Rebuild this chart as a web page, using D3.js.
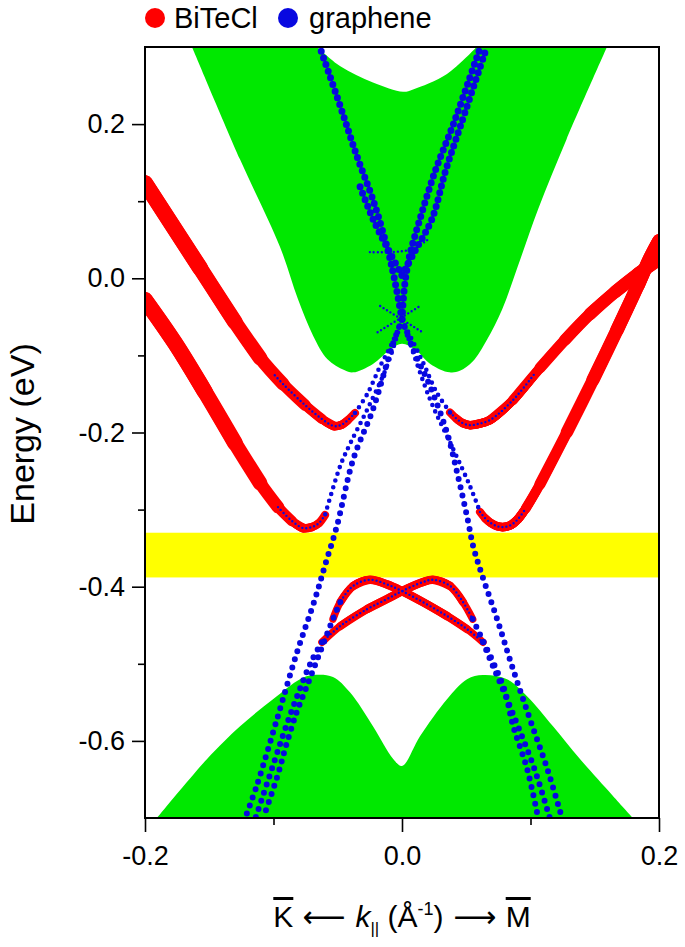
<!DOCTYPE html>
<html><head><meta charset="utf-8">
<script src="https://cdn.jsdelivr.net/npm/d3@7"></script>
<style>body{margin:0;background:#fff} svg{display:block} text{font-family:"Liberation Sans",Arial,sans-serif;fill:#000}</style>
</head><body><svg id="c" width="685" height="947"></svg>
<script>
// ---------------- data ----------------
const kRange = [-0.2, 0.2];
const eRange = [-0.7, 0.3];
const yMajorTicks = [-0.6, -0.4, -0.2, 0.0, 0.2];
const yMinorTicks = [-0.5, -0.3, -0.1, 0.1];
const xMajorTicks = [-0.2, 0.0, 0.2];
const xMinorTicks = [-0.1, 0.1];
const legendLabels = ["BiTeCl", "graphene"];
const xLabelParts = ["K", "\u27F5", "k", "||", "(\u00C5", "-1", ")", "\u27F6", "M"];
const yLabel = "Energy (eV)";

// bulk conduction continuum: outer boundary and inner (top) gap
const cbOuter = [[-0.1634,0.30],[-0.126,0.154],[-0.095,0.041],[-0.081,-0.027],[-0.069,-0.075],[-0.058,-0.105],[-0.045,-0.119],[-0.038,-0.122],[-0.0226,-0.111],[-0.009,-0.092],[0,-0.085],[0.01,-0.092],[0.022,-0.111],[0.037,-0.122],[0.045,-0.12],[0.055,-0.108],[0.066,-0.08],[0.078,-0.04],[0.09,0.015],[0.106,0.09],[0.128,0.18],[0.1595,0.30]];
const cbInner = [[-0.066,0.30],[-0.048,0.275],[-0.0226,0.254],[0.0008,0.242],[0.0086,0.245],[0.035,0.265],[0.058,0.30]];
// bulk valence continuum upper boundary
const vbTop = [[-0.1907,-0.70],[-0.1517,-0.6235],[-0.126,-0.581],[-0.1004,-0.546],[-0.0794,-0.520],[-0.0693,-0.5146],[-0.0537,-0.517],[-0.0405,-0.537],[-0.0226,-0.581],[-0.007,-0.623],[0,-0.6325],[0.014,-0.594],[0.035,-0.546],[0.0506,-0.520],[0.063,-0.5146],[0.0817,-0.520],[0.0973,-0.542],[0.1175,-0.581],[0.1385,-0.6235],[0.164,-0.671],[0.1797,-0.70]];
// bulk gap window
const gapBand = [-0.388, -0.330];

// BiTeCl surface bands: [k, E, weight]
const bitA_L = [[-0.2,0.1236,1],[-0.1572,0.0134,1],[-0.13,-0.0567,0.95],[-0.1105,-0.1034,0.88],[-0.0926,-0.1371,0.75],[-0.0755,-0.1643,0.6],[-0.0623,-0.1825,0.45],[-0.053,-0.1916,0.36],[-0.0475,-0.1903,0.33],[-0.042,-0.1838,0.3],[-0.0366,-0.1747,0.28]];
const bitB_L = [[-0.2,-0.0281,1],[-0.1767,-0.0839,1],[-0.1533,-0.1475,1],[-0.13,-0.2136,0.97],[-0.1105,-0.2655,0.88],[-0.0965,-0.2967,0.7],[-0.0856,-0.3148,0.5],[-0.077,-0.3239,0.38],[-0.07,-0.3226,0.33],[-0.0646,-0.3174,0.3],[-0.0599,-0.307,0.28]];
const bitA_R = [[0.0374,-0.174,0.28],[0.042,-0.1815,0.3],[0.0475,-0.188,0.32],[0.053,-0.1905,0.33],[0.059,-0.189,0.34],[0.0685,-0.1838,0.37],[0.0864,-0.1579,0.45],[0.1074,-0.1163,0.55],[0.1268,-0.08,0.62],[0.1463,-0.0463,0.68],[0.1658,-0.0178,0.72],[0.1837,0.0056,0.75],[0.2,0.025,0.75]];
const bitB_R = [[0.0607,-0.303,0.28],[0.0646,-0.311,0.3],[0.0693,-0.3175,0.32],[0.074,-0.3215,0.33],[0.0786,-0.3227,0.33],[0.0848,-0.32,0.35],[0.0903,-0.3122,0.38],[0.0965,-0.298,0.45],[0.1074,-0.2669,0.55],[0.1284,-0.1994,0.68],[0.1486,-0.1319,0.75],[0.1673,-0.0671,0.78],[0.1837,-0.0087,0.8],[0.193,0.0263,0.8],[0.2,0.0484,0.8]];
const bitV1 = [[-0.0623,-0.472,0.22],[-0.048,-0.451,0.28],[-0.027,-0.429,0.32],[-0.0117,-0.416,0.32],[0,-0.4057,0.32],[0.0163,-0.394,0.32],[0.024,-0.391,0.32],[0.0374,-0.399,0.32],[0.0475,-0.42,0.28],[0.055,-0.442,0.22]];
const bitV2 = [[-0.0537,-0.442,0.22],[-0.048,-0.42,0.28],[-0.038,-0.399,0.32],[-0.025,-0.391,0.32],[-0.0117,-0.397,0.32],[0,-0.4057,0.32],[0.0163,-0.42,0.32],[0.035,-0.438,0.32],[0.0506,-0.455,0.28],[0.063,-0.472,0.22]];

// graphene states: [k, E]
const gU_L1 = [[0,-0.053],[-0.006,0.0],[-0.0117,0.041],[-0.0226,0.102],[-0.035,0.158],[-0.048,0.223],[-0.064,0.30]];
const gU_L2 = [[0,0.004],[-0.01,0.035],[-0.0226,0.077],[-0.034,0.125]];
const gU_R1 = [[0,-0.053],[0.002,-0.01],[0.006,0.03],[0.014,0.077],[0.026,0.14],[0.04,0.2],[0.061,0.30]];
const gU_R2 = [[0,0.004],[0.01,0.035],[0.0233,0.077],[0.034,0.14],[0.046,0.2],[0.066,0.30]];
const gL_mainL = [[0,-0.053],[-0.008,-0.09],[-0.0226,-0.17],[-0.038,-0.235],[-0.0506,-0.321],[-0.0595,-0.37],[-0.0677,-0.416],[-0.0817,-0.485],[-0.0973,-0.572],[-0.113,-0.658],[-0.122,-0.70]];
const gL_mainR = [[0,-0.053],[0.0086,-0.092],[0.0218,-0.14],[0.035,-0.2],[0.0436,-0.257],[0.051,-0.312],[0.0553,-0.347],[0.0607,-0.377],[0.074,-0.442],[0.0864,-0.507],[0.0996,-0.572],[0.113,-0.636],[0.1245,-0.70]];
const gA_L = [[0,-0.053],[-0.008,-0.085],[-0.017,-0.114],[-0.027,-0.15],[-0.0366,-0.1747]];
const gB_L = [[0,-0.053],[-0.0117,-0.114],[-0.027,-0.17],[-0.0405,-0.215],[-0.048,-0.243],[-0.0599,-0.307]];
const gA_R = [[0,-0.053],[0.0163,-0.109],[0.027,-0.148],[0.0374,-0.174]];
const gB_R = [[0,-0.053],[0.0218,-0.157],[0.040,-0.222],[0.053,-0.27],[0.0607,-0.303]];
const gV2L = [[-0.048,-0.42],[-0.0537,-0.442],[-0.0638,-0.485],[-0.074,-0.529],[-0.082,-0.563],[-0.0895,-0.602],[-0.097,-0.646],[-0.108,-0.70]];
const gV1L = [[-0.0623,-0.472],[-0.07,-0.495],[-0.08,-0.535],[-0.091,-0.585],[-0.102,-0.64],[-0.114,-0.70]];
const gV1R = [[0.055,-0.442],[0.063,-0.47],[0.0715,-0.5],[0.08,-0.535],[0.0864,-0.58],[0.0973,-0.636],[0.106,-0.70]];
const gV2R = [[0.063,-0.472],[0.07,-0.5],[0.079,-0.535],[0.09,-0.58],[0.103,-0.636],[0.115,-0.70]];
const gA_Lin = [[-0.0366,-0.1747],[-0.042,-0.1838],[-0.0475,-0.1903],[-0.053,-0.1916],[-0.0623,-0.1825],[-0.0755,-0.1643],[-0.0926,-0.1371],[-0.1,-0.124]];
const gB_Lin = [[-0.0599,-0.307],[-0.0646,-0.3174],[-0.07,-0.3226],[-0.077,-0.3239],[-0.0856,-0.3148],[-0.0965,-0.2967]];
const gA_Rin = [[0.0374,-0.174],[0.042,-0.1815],[0.0475,-0.188],[0.053,-0.1905],[0.059,-0.189],[0.0685,-0.1838],[0.0864,-0.1579],[0.104,-0.122]];
const gB_Rin = [[0.0607,-0.303],[0.0646,-0.311],[0.0693,-0.3175],[0.074,-0.3215],[0.0786,-0.3227],[0.0848,-0.32],[0.0903,-0.3122],[0.0965,-0.298]];
const gX1 = [[-0.017,-0.036],[0.016,-0.07]];
const gX2 = [[-0.019,-0.07],[0.014,-0.036]];
const gX3 = [[-0.025,0.034],[-0.008,0.034],[0.008,0.038],[0.02,0.05]];

// ---------------- drawing ----------------
const svg = d3.select("#c");
const L = 145, R = 659, T = 47, B = 818;
const x = d3.scaleLinear(kRange, [L, R]);
const y = d3.scaleLinear(eRange, [B, T]);
const wScale = d3.scaleLinear([0, 1], [5, 16]);
const RED = "#ff0000", BLUE = "#0808e0", GREEN = "#00e800", YEL = "#ffff00";

svg.append("clipPath").attr("id", "pa").append("rect").attr("x", L).attr("y", T).attr("width", R - L).attr("height", B - T);
const g = svg.append("g").attr("clip-path", "url(#pa)");

const smooth = d3.line().x(d => x(d[0])).y(d => y(d[1])).curve(d3.curveCatmullRom.alpha(0.5));

// conduction continuum
const outerPath = smooth(cbOuter);
const innerPath = smooth(cbInner.slice().reverse());
const topE = 0.36;
g.append("path")
  .attr("d", `M${x(cbOuter[0][0]) - 20},${y(topE)}` + outerPath.replace(/^M/, "L") + `L${x(cbOuter[cbOuter.length-1][0]) + 20},${y(topE)}` +
     `L${x(cbInner[cbInner.length-1][0]) + 5},${y(topE)}` + innerPath.replace(/^M/, "L") + `L${x(cbInner[0][0]) - 5},${y(topE)}Z`)
  .attr("fill", GREEN);
// valence continuum
g.append("path")
  .attr("d", `M${x(vbTop[0][0]) - 10},${y(-0.75)}` + smooth(vbTop).replace(/^M/, "L") + `L${x(vbTop[vbTop.length-1][0]) + 10},${y(-0.75)}Z`)
  .attr("fill", GREEN);
// gap band
g.append("rect").attr("x", L).attr("width", R - L)
  .attr("y", y(gapBand[1])).attr("height", y(gapBand[0]) - y(gapBand[1])).attr("fill", YEL);

// BiTeCl fat bands: smooth layered strokes, thicker where weight is larger
[bitA_L, bitB_L, bitA_R, bitB_R, bitV1, bitV2].forEach(band => {
  const levels = Array.from(new Set(band.map(d => d[2]))).sort((a, b) => a - b);
  const bg = g.append("g");
  levels.forEach(t => {
    const sub = band.filter(d => d[2] >= t);
    bg.append("path").attr("d", smooth(sub)).attr("fill", "none")
      .attr("stroke", RED).attr("stroke-linecap", "round").attr("stroke-linejoin", "round")
      .attr("stroke-width", wScale(t));
  });
});

// graphene dotted chains
const dotStyles = {
  big:   {size: 7.0, gap: 7.0},
  med:   {size: 6.0, gap: 8.5},
  small: {size: 4.6, gap: 7.0},
  tiny:  {size: 2.4, gap: 4.0}
};
const chains = [
  [gU_L1, "big"], [gU_L2, "big"], [gU_R1, "big"], [gU_R2, "big"],
  [gL_mainL, "med"], [gL_mainR, "med"],
  [gV2L, "med"], [gV1L, "med"], [gV1R, "med"], [gV2R, "med"],
  [gA_L, "small"], [gB_L, "small"], [gA_R, "small"], [gB_R, "small"],
  [gA_Lin, "tiny"], [gB_Lin, "tiny"], [gA_Rin, "tiny"], [gB_Rin, "tiny"],
  [bitV1.map(d => [d[0], d[1]]), "tiny"], [bitV2.map(d => [d[0], d[1]]), "tiny"],
  [gX1, "tiny"], [gX2, "tiny"], [gX3, "tiny"]
];
chains.forEach(([pts, st]) => {
  const s = dotStyles[st];
  g.append("path").attr("d", smooth(pts)).attr("fill", "none")
    .attr("stroke", BLUE).attr("stroke-width", s.size)
    .attr("stroke-linecap", "round").attr("stroke-dasharray", `0 ${s.gap}`);
});

// frame
svg.append("rect").attr("x", L).attr("y", T).attr("width", R - L).attr("height", B - T)
  .attr("fill", "none").attr("stroke", "#000").attr("stroke-width", 2);

// axes
const fmt = d => d.toFixed(1);
svg.append("g").attr("transform", `translate(0,${B})`)
  .call(d3.axisBottom(x).tickValues(xMajorTicks).tickSize(14).tickPadding(14).tickFormat(fmt));
svg.append("g").attr("transform", `translate(0,${B})`)
  .call(d3.axisBottom(x).tickValues(xMinorTicks).tickSize(7).tickFormat(""));
svg.append("g").attr("transform", `translate(${L},0)`)
  .call(d3.axisLeft(y).tickValues(yMajorTicks).tickSize(13).tickPadding(7).tickFormat(fmt));
svg.append("g").attr("transform", `translate(${L},0)`)
  .call(d3.axisLeft(y).tickValues(yMinorTicks).tickSize(7).tickFormat(""));
svg.selectAll(".domain").remove();
svg.selectAll(".tick line").attr("stroke", "#000").attr("stroke-width", 1.6);
svg.selectAll(".tick text").attr("font-family", "Liberation Sans, Arial, sans-serif").attr("font-size", 27).attr("fill", "#000");

// y label
svg.append("text").attr("transform", `translate(34,434) rotate(-90)`)
  .attr("text-anchor", "middle").attr("font-size", 34).text(yLabel);

// x label
const xl = svg.append("text").attr("x", 402).attr("y", 927).attr("text-anchor", "middle").attr("font-size", 30);
xl.append("tspan").attr("text-decoration", "overline").text(xLabelParts[0]);
xl.append("tspan").attr("font-family", "DejaVu Sans").attr("font-size", 30).text(" " + xLabelParts[1] + " ");
xl.append("tspan").attr("font-style", "italic").text(xLabelParts[2]);
xl.append("tspan").attr("font-size", 17).attr("dy", 7).text(xLabelParts[3]);
xl.append("tspan").attr("dy", -7).text(" " + xLabelParts[4]);
xl.append("tspan").attr("font-size", 18).attr("dy", -12).text(xLabelParts[5]);
xl.append("tspan").attr("dy", 12).text(xLabelParts[6]);
xl.append("tspan").attr("font-family", "DejaVu Sans").attr("font-size", 30).text(" " + xLabelParts[7] + " ");
xl.append("tspan").attr("text-decoration", "overline").text(xLabelParts[8]);

// legend
const leg = svg.append("g");
[[RED, 155, 174], [BLUE, 288, 309]].forEach((c, i) => {
  leg.append("circle").attr("cx", c[1]).attr("cy", 18).attr("r", 10).attr("fill", c[0]);
  leg.append("text").attr("x", c[2]).attr("y", 28).attr("font-size", 29).text(legendLabels[i]);
});
</script></body></html>
